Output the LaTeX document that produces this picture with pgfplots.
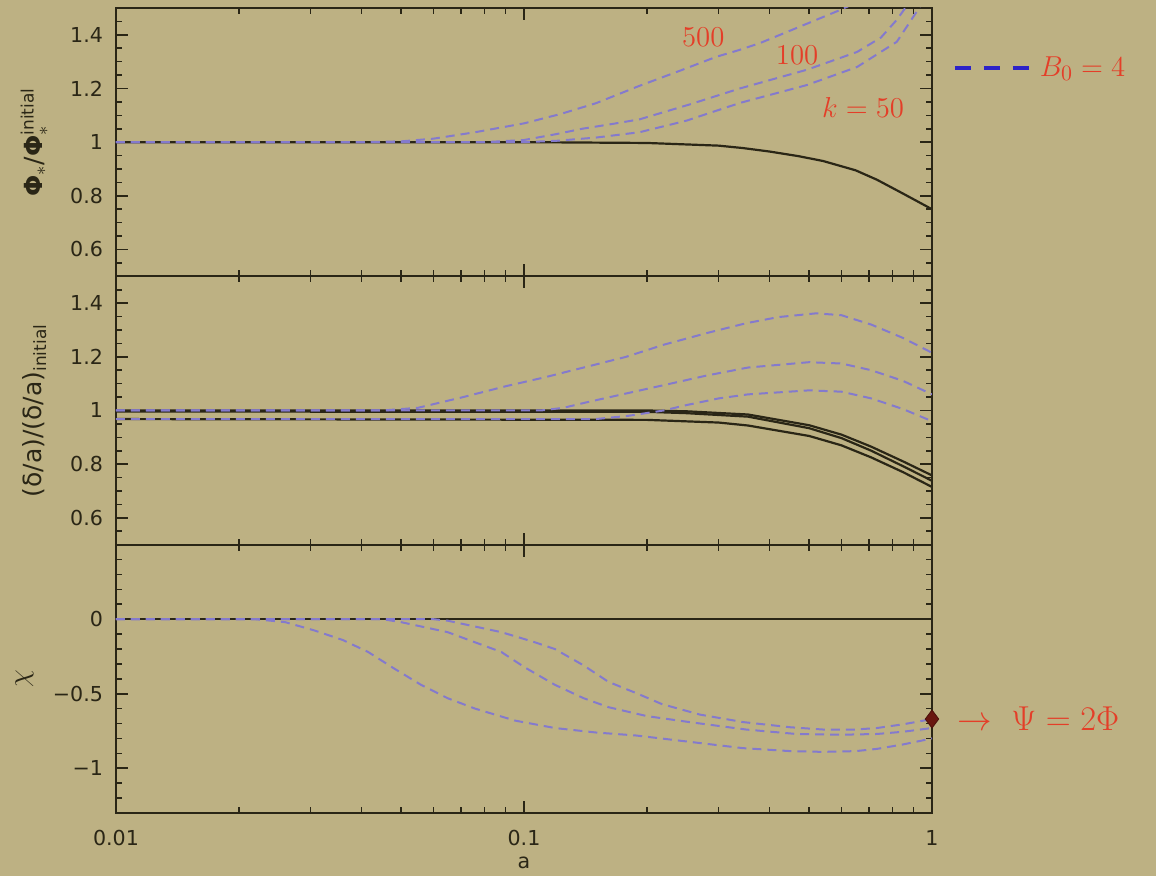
\documentclass[border=0pt]{standalone}
\usepackage{pgfplots}
\pgfplotsset{compat=1.18}
\usepackage{fontspec}
\setmainfont{DejaVu Sans}
\definecolor{bg}{RGB}{189,177,131}
\definecolor{axc}{RGB}{42,38,22}
\definecolor{dsh}{RGB}{132,122,205}
\definecolor{lbl}{RGB}{228,62,40}
\definecolor{dia}{RGB}{105,22,15}
\definecolor{legb}{RGB}{45,35,200}
\pgfplotsset{
 every axis/.append style={
  width=408pt, height=134.17pt, scale only axis,
  xmin=0.01, xmax=1,
  axis line style={axc, line width=1.1pt},
  every tick/.style={axc, line width=0.8pt},
  major tick length=6pt, minor tick length=3pt,
  tick align=inside,
  xtick={0.01,0.1,1},
  minor xtick={0.02,0.03,0.04,0.05,0.06,0.07,0.08,0.09,0.2,0.3,0.4,0.5,0.6,0.7,0.8,0.9},
  tick label style={font=\fontsize{10.3}{12}\selectfont, text=axc},
  yticklabel style={xshift=-3pt},
  xticklabel style={yshift=-5pt},
  ylabel style={at={(axis description cs:-0.1,0.5)}, anchor=center, text=axc},
 },
 dsty/.style={dsh, line width=1pt, dash pattern=on 4.5pt off 3pt},
 ssty/.style={axc, line width=1.1pt},
}
\begin{document}
\begin{tikzpicture}
\fill[bg] (0,0) rectangle (578pt,438pt);
% ---------------- panel 1
\begin{semilogxaxis}[at={(58pt,299.83pt)}, anchor=south west,
  ymin=0.5, ymax=1.5,
  ytick={0.6,0.8,1,1.2,1.4}, yticklabels={0.6,0.8,1,1.2,1.4},
  minor ytick={0.55,0.65,0.7,0.75,0.85,0.9,0.95,1.05,1.1,1.15,1.25,1.3,1.35,1.45},
  xticklabels={},
  ylabel={\fontsize{12.5}{14}\selectfont \textbf{Φ}$_*$/\textbf{Φ}$_*^{\mbox{\fontsize{8.5}{9}\selectfont initial}}$},
  legend style={at={(axis description cs:1.025,0.777)}, anchor=west, draw=none, fill=none,
    font=\fontsize{15}{17}\selectfont, text=lbl, inner sep=0pt},
  legend image code/.code={\draw[#1] (0pt,0pt) -- (37pt,0pt);},
]
\addlegendimage{legb, line width=2pt, dash pattern=on 8pt off 6.5pt}
\addlegendentry{\,$B_0 = 4$}
\addplot[ssty] coordinates {(0.01,1)(0.1,1)(0.2,0.997)(0.3,0.987)(0.344,0.978)(0.4,0.965)(0.47,0.948)(0.54,0.930)(0.65,0.895)(0.733,0.860)(0.85,0.808)(1,0.75)};
\addplot[dsty] coordinates {(0.01,1)(0.04,1.0)(0.05,1.003)(0.06,1.013)(0.0759,1.037)(0.1,1.07)(0.123,1.105)(0.15,1.145)(0.192,1.21)(0.24,1.265)(0.296,1.318)(0.338,1.344)(0.38,1.37)(0.465,1.425)(0.59,1.49)(0.62,1.505)(0.7,1.54)};
\addplot[dsty] coordinates {(0.01,1)(0.08,1.0)(0.1,1.008)(0.12,1.03)(0.139,1.05)(0.165,1.068)(0.192,1.085)(0.254,1.14)(0.338,1.20)(0.494,1.27)(0.655,1.336)(0.75,1.39)(0.82,1.456)(0.86,1.5)(0.9,1.55)};
\addplot[dsty] coordinates {(0.01,1)(0.1,1.0)(0.12,1.005)(0.15,1.017)(0.192,1.037)(0.25,1.08)(0.338,1.146)(0.494,1.213)(0.655,1.28)(0.82,1.374)(0.89,1.456)(0.93,1.5)(0.97,1.56)};
\node[lbl, font=\fontsize{14}{16}\selectfont] at (axis cs:0.275,1.39) {$500$};
\node[lbl, font=\fontsize{14}{16}\selectfont] at (axis cs:0.467,1.325) {$100$};
\node[lbl, font=\fontsize{14}{16}\selectfont] at (axis cs:0.678,1.131) {$k=50$};
\end{semilogxaxis}
% ---------------- panel 2
\begin{semilogxaxis}[at={(58pt,165.67pt)}, anchor=south west,
  ymin=0.5, ymax=1.5,
  ytick={0.6,0.8,1,1.2,1.4}, yticklabels={0.6,0.8,1,1.2,1.4},
  minor ytick={0.55,0.65,0.7,0.75,0.85,0.9,0.95,1.05,1.1,1.15,1.25,1.3,1.35,1.45},
  xticklabels={},
  ylabel={\fontsize{12.5}{14}\selectfont (δ/a)/(δ/a)$_{\mbox{\fontsize{8.5}{9}\selectfont initial}}$},
]
\addplot[ssty] coordinates {(0.01,1)(0.2,1.0)(0.25,0.997)(0.354,0.985)(0.5,0.945)(0.6,0.91)(0.71,0.865)(0.85,0.81)(1,0.758)};
\addplot[ssty] coordinates {(0.01,0.996)(0.2,0.995)(0.25,0.99)(0.354,0.977)(0.5,0.934)(0.6,0.897)(0.71,0.850)(0.85,0.792)(1,0.738)};
\addplot[ssty] coordinates {(0.01,0.968)(0.2,0.965)(0.3,0.955)(0.354,0.944)(0.5,0.905)(0.6,0.87)(0.71,0.825)(0.85,0.77)(1,0.715)};
\addplot[dsty] coordinates {(0.01,1)(0.045,1.0)(0.055,1.01)(0.071,1.05)(0.09,1.09)(0.112,1.123)(0.14,1.16)(0.178,1.20)(0.22,1.245)(0.283,1.29)(0.35,1.325)(0.42,1.348)(0.52,1.362)(0.6,1.355)(0.71,1.32)(0.85,1.27)(1,1.215)};
\addplot[dsty] coordinates {(0.01,1)(0.11,1.0)(0.125,1.01)(0.142,1.03)(0.18,1.065)(0.224,1.097)(0.28,1.13)(0.354,1.16)(0.5,1.18)(0.6,1.175)(0.71,1.15)(0.85,1.11)(1,1.06)};
\addplot[dsty] coordinates {(0.01,0.968)(0.15,0.968)(0.18,0.98)(0.22,1.0)(0.25,1.02)(0.3,1.045)(0.354,1.06)(0.5,1.075)(0.6,1.07)(0.71,1.045)(0.85,1.005)(1,0.96)};
\end{semilogxaxis}
% ---------------- panel 3
\begin{semilogxaxis}[at={(58pt,31.5pt)}, anchor=south west, clip=false,
  ymin=-1.3, ymax=0.5,
  ytick={-1,-0.5,0}, yticklabels={−1,−0.5,0},
  minor ytick={-1.2,-1.1,-0.9,-0.8,-0.7,-0.6,-0.4,-0.3,-0.2,-0.1,0.1,0.2,0.3,0.4},
  xticklabels={0.01,0.1,1},
  xlabel={a}, xlabel style={font=\fontsize{10.3}{12}\selectfont, text=axc, at={(axis description cs:0.5,-0.187)}, anchor=center},
  ylabel={\fontsize{14}{16}\selectfont $\chi$},
  ylabel style={at={(axis description cs:-0.112,0.5)}},
]
\addplot[ssty] coordinates {(0.01,0)(1,0)};
\addplot[dsty] coordinates {(0.01,0)(0.022,0)(0.026,-0.02)(0.0306,-0.075)(0.036,-0.14)(0.0415,-0.22)(0.048,-0.33)(0.0559,-0.44)(0.065,-0.53)(0.0759,-0.60)(0.095,-0.68)(0.119,-0.73)(0.15,-0.76)(0.188,-0.78)(0.25,-0.82)(0.344,-0.865)(0.45,-0.885)(0.54,-0.89)(0.65,-0.885)(0.733,-0.87)(0.85,-0.84)(1,-0.80)};
\addplot[dsty] coordinates {(0.01,0)(0.045,0)(0.05,-0.02)(0.065,-0.087)(0.075,-0.15)(0.088,-0.22)(0.1,-0.32)(0.119,-0.44)(0.14,-0.53)(0.161,-0.59)(0.2,-0.65)(0.254,-0.69)(0.35,-0.74)(0.465,-0.77)(0.6,-0.775)(0.733,-0.77)(0.85,-0.755)(1,-0.73)};
\addplot[dsty] coordinates {(0.01,0)(0.06,0)(0.065,-0.01)(0.088,-0.087)(0.105,-0.15)(0.119,-0.20)(0.14,-0.31)(0.161,-0.42)(0.19,-0.50)(0.218,-0.57)(0.27,-0.64)(0.344,-0.69)(0.45,-0.725)(0.54,-0.74)(0.65,-0.74)(0.733,-0.73)(0.85,-0.705)(1,-0.67)};
\addplot[only marks, mark=diamond*, mark size=4.5pt, dia, mark options={fill=dia, draw=dia!70!black}] coordinates {(1,-0.67)};
\node[lbl, anchor=west, font=\fontsize{16}{18}\selectfont, xshift=9pt] at (axis cs:1,-0.67) {$\rightarrow\ \Psi = 2\Phi$};
\end{semilogxaxis}
\end{tikzpicture}
\end{document}
